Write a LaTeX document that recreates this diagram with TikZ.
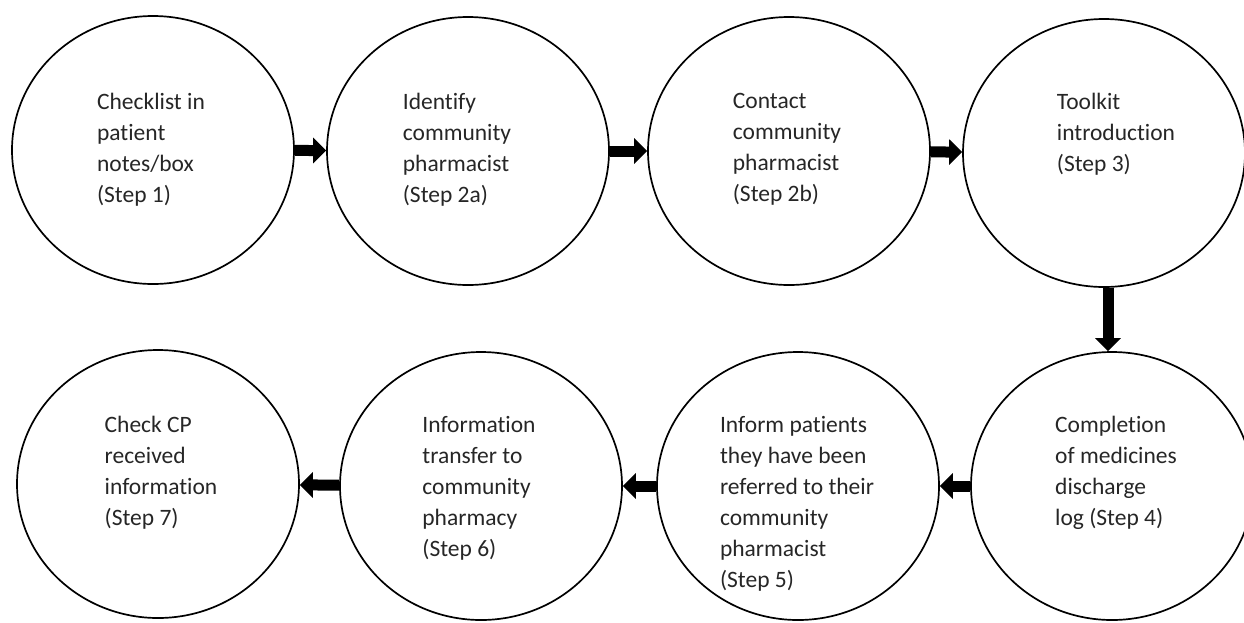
\documentclass[tikz,border=0pt]{standalone}
\usepackage{fontspec}
\setmainfont{Carlito}[Ligatures=NoCommon]
\usetikzlibrary{shapes.geometric,arrows.meta}

\begin{document}
\begin{tikzpicture}[x=1pt, y=-1pt,
  stepcircle/.style={ellipse, draw, line width=1.7pt, minimum width=282pt, minimum height=268pt, inner sep=0pt},
  steptext/.style={anchor=north, align=left, inner sep=0pt, text=black!85, font=\fontsize{23.5}{31}\selectfont},
  flowarrow/.style={line width=11pt, -{Triangle[length=13pt, width=25pt]}}]

\useasboundingbox (0,0) rectangle (1244,622);

% top row
\node[stepcircle] (s1) at (153,150) {};
\node[stepcircle] (s2) at (468,151) {};
\node[stepcircle] (s3) at (789,151) {};
\node[stepcircle] (s4) at (1104,153) {};

\node[steptext] (t1) at (151,93) {Checklist in\\patient\\notes/box\\(Step 1)};
\node[steptext] (t2) at (457,93) {Identify\\community\\pharmacist\\(Step 2a)};
\node[steptext] (t3) at (787,93) {Contact\\community\\pharmacist\\(Step 2b)};
\node[steptext] (t4) at (1116,93) {Toolkit\\introduction\\(Step 3)};

% bottom row
\node[stepcircle] (s5) at (1112,486) {};
\node[stepcircle] (s6) at (798,486) {};
\node[stepcircle] (s7) at (481,486) {};
\node[stepcircle] (s8) at (158,484) {};

\node[steptext] (t5) at (1116,416) {Completion\\of medicines\\discharge\\log (Step 4)};
\node[steptext] (t6) at (797,416) {Inform patients\\they have been\\referred to their\\community\\pharmacist\\(Step 5)};
\node[steptext] (t7) at (479,416) {Information\\transfer to\\community\\pharmacy\\(Step 6)};
\node[steptext] (t8) at (161,416) {Check CP\\received\\information\\(Step 7)};

% connectors
\draw[flowarrow] (s1) -- (s2);
\draw[flowarrow] (s2) -- (s3);
\draw[flowarrow] (s3) -- (s4);
\draw[flowarrow] ([xshift=4pt]s4.south) -- ([xshift=-4pt]s5.north);
\draw[flowarrow] (s5) -- (s6);
\draw[flowarrow] (s6) -- (s7);
\draw[flowarrow] (s7) -- (s8);

\end{tikzpicture}
\end{document}
